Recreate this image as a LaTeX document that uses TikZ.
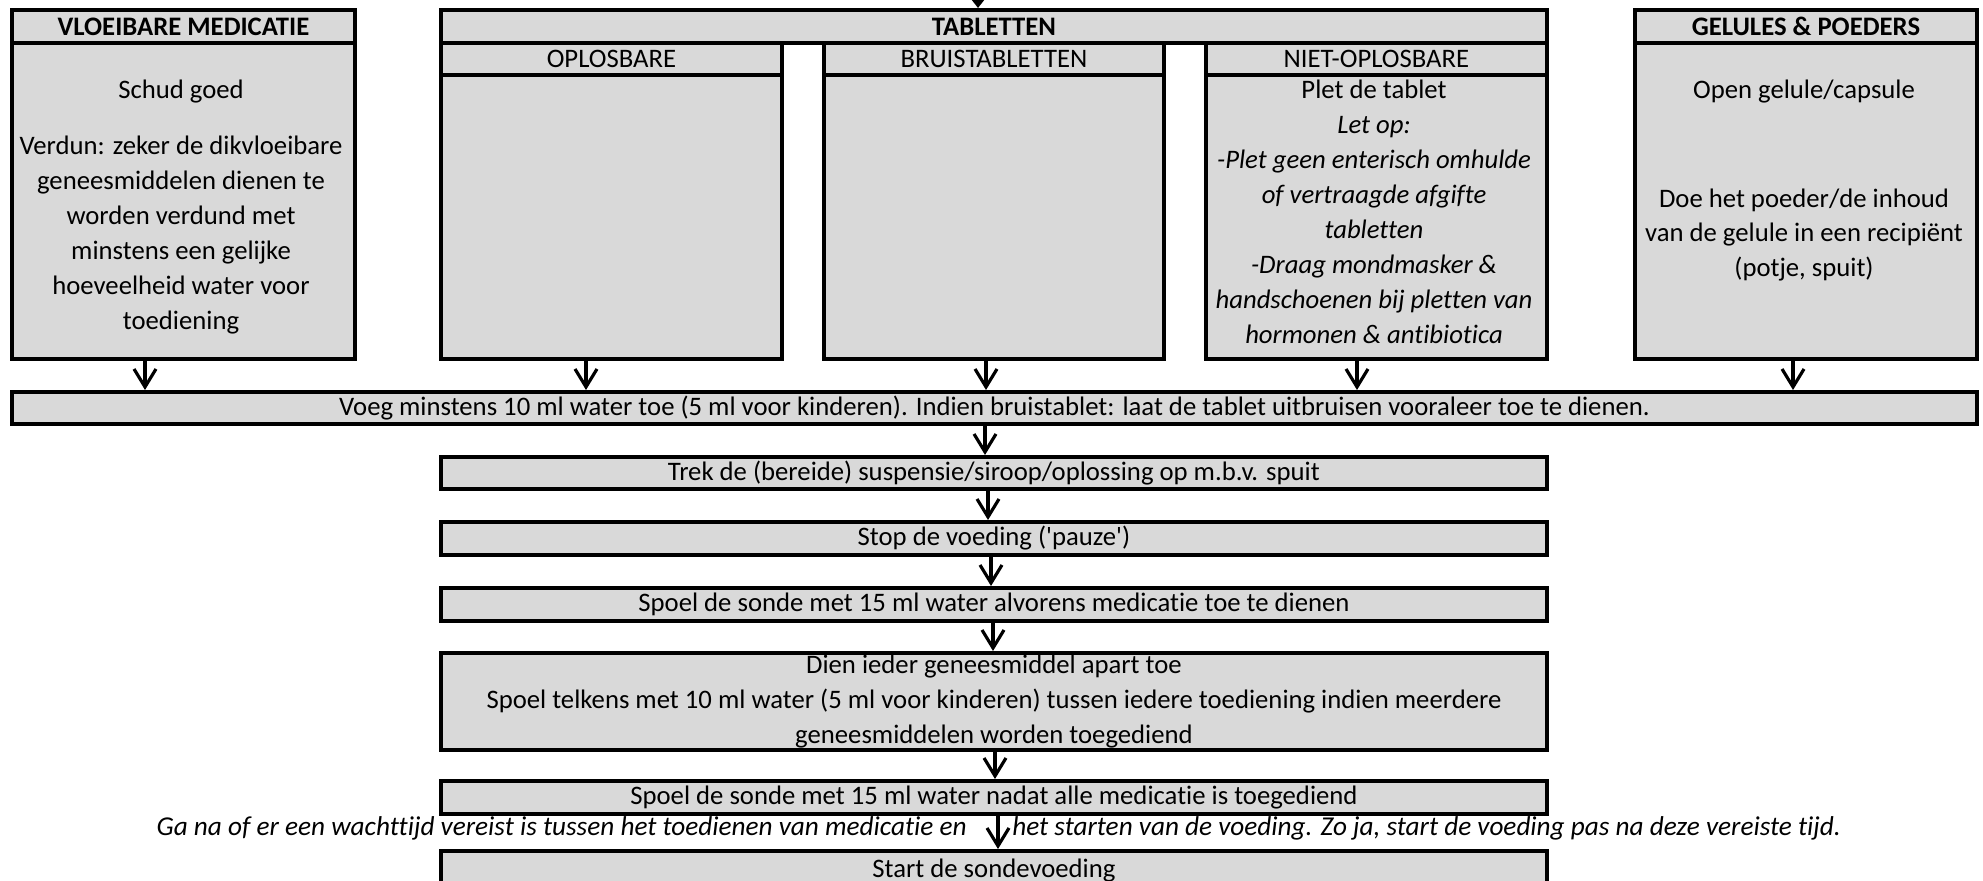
\documentclass[tikz,border=0pt]{standalone}
\usepackage{fontspec}
\setmainfont{Carlito}[Ligatures={NoCommon}]
\usetikzlibrary{arrows.meta}
\definecolor{cellgray}{HTML}{D9D9D9}
\newcommand{\px}{0.02cm}

\begin{document}
\begin{tikzpicture}[x=\px, y=-\px,
    font=\fontsize{15.2}{19.9}\selectfont,
    cell/.style={draw, rectangle, fill=cellgray, line width=2.2pt, anchor=north west, inner sep=0pt, align=center},
    txt/.style={align=center, inner sep=0pt},
    note/.style={inner sep=0pt, font=\fontsize{15.5}{19.9}\selectfont\itshape},
    flow/.style={line width=1.8pt, -{Straight Barb[length=3.6mm, width=4.4mm]}}]
    \useasboundingbox (0,0) rectangle (1983,881);

    % Top row
    \node[cell, minimum width=343*\px, minimum height=33*\px] (vloei-head) at (10,8) {\bfseries VLOEIBARE MEDICATIE};
    \node[cell, minimum width=343*\px, minimum height=316*\px] (vloei-body) at (10,41) {};
    \node[cell, minimum width=1106*\px, minimum height=33*\px] (tab-head) at (439,8) {\bfseries TABLETTEN};
    \node[cell, minimum width=341*\px, minimum height=32*\px] (opl-head) at (439,41) {OPLOSBARE};
    \node[cell, minimum width=341*\px, minimum height=284*\px] (opl-body) at (439,73) {};
    \node[cell, minimum width=340*\px, minimum height=32*\px] (bruis-head) at (822,41) {BRUISTABLETTEN};
    \node[cell, minimum width=340*\px, minimum height=284*\px] (bruis-body) at (822,73) {};
    \node[cell, minimum width=341*\px, minimum height=32*\px] (niet-head) at (1204,41) {NIET-OPLOSBARE};
    \node[cell, minimum width=341*\px, minimum height=284*\px] (niet-body) at (1204,73) {};
    \node[cell, minimum width=342*\px, minimum height=33*\px] (gel-head) at (1633,8) {\bfseries GELULES \& POEDERS};
    \node[cell, minimum width=342*\px, minimum height=316*\px] (gel-body) at (1633,41) {};

    \node[txt] (vloei-1) at (181,92) {Schud goed};
    \node[txt] (vloei-2) at (181,235) {Verdun: zeker de dikvloeibare\\geneesmiddelen dienen te\\worden verdund met\\minstens een gelijke\\hoeveelheid water voor\\toediening};
    \node[txt] (niet-1) at (1374,212) {Plet de tablet\\\itshape Let op:\\\itshape -Plet geen enterisch omhulde\\\itshape of vertraagde afgifte\\\itshape tabletten\\\itshape -Draag mondmasker \&\\\itshape handschoenen bij pletten van\\\itshape hormonen \& antibiotica};
    \node[txt] (gel-1) at (1804,92) {Open gelule/capsule};
    \node[txt] (gel-2) at (1804,235) {Doe het poeder/de inhoud\\van de gelule in een recipiënt\\(potje, spuit)};

    % Steps
    \node[cell, minimum width=1965*\px, minimum height=32*\px] (voeg) at (10,390) {Voeg minstens 10 ml water toe (5 ml voor kinderen). Indien bruistablet: laat de tablet uitbruisen vooraleer toe te dienen.};
    \node[cell, minimum width=1106*\px, minimum height=32*\px] (trek) at (439,455) {Trek de (bereide) suspensie/siroop/oplossing op m.b.v. spuit};
    \node[cell, minimum width=1106*\px, minimum height=33*\px] (stop) at (439,520) {Stop de voeding (\textquotesingle pauze\textquotesingle)};
    \node[cell, minimum width=1106*\px, minimum height=33*\px] (spoel-voor) at (439,586) {Spoel de sonde met 15 ml water alvorens medicatie toe te dienen};
    \node[cell, minimum width=1106*\px, minimum height=97*\px] (dien) at (439,651) {Dien ieder geneesmiddel apart toe\\Spoel telkens met 10 ml water (5 ml voor kinderen) tussen iedere toediening indien meerdere\\geneesmiddelen worden toegediend};
    \node[cell, minimum width=1106*\px, minimum height=33*\px] (spoel-na) at (439,779) {Spoel de sonde met 15 ml water nadat alle medicatie is toegediend};
    \node[cell, minimum width=1106*\px, minimum height=42*\px] (start) at (439,849) {\raisebox{4pt}{Start de sondevoeding}};

    \node[note, anchor=east] (wacht-1) at (967,828) {Ga na of er een wachttijd vereist is tussen het toedienen van medicatie en};
    \node[note, anchor=west] (wacht-2) at (1012,828) {het starten van de voeding. Zo ja, start de voeding pas na deze vereiste tijd.};

    % Arrows
    \coordinate (in-top) at (978,0);
    \draw[line width=1pt, -{Triangle[length=1.6mm, width=2.4mm]}] (in-top) -- (tab-head.north -| in-top);
    \draw[flow] (vloei-body.south -| 145,0) -- (voeg.north -| 145,0);
    \draw[flow] (opl-body.south -| 586,0) -- (voeg.north -| 586,0);
    \draw[flow] (bruis-body.south -| 986,0) -- (voeg.north -| 986,0);
    \draw[flow] (niet-body.south -| 1357,0) -- (voeg.north -| 1357,0);
    \draw[flow] (gel-body.south -| 1793,0) -- (voeg.north -| 1793,0);
    \draw[flow] (voeg.south -| 985,0) -- (trek.north -| 985,0);
    \draw[flow] (trek.south -| 988,0) -- (stop.north -| 988,0);
    \draw[flow] (stop.south -| 991,0) -- (spoel-voor.north -| 991,0);
    \draw[flow] (spoel-voor.south -| 993,0) -- (dien.north -| 993,0);
    \draw[flow] (dien.south -| 995,0) -- (spoel-na.north -| 995,0);
    \draw[flow] (spoel-na.south -| 998,0) -- (start.north -| 998,0);
\end{tikzpicture}
\end{document}
